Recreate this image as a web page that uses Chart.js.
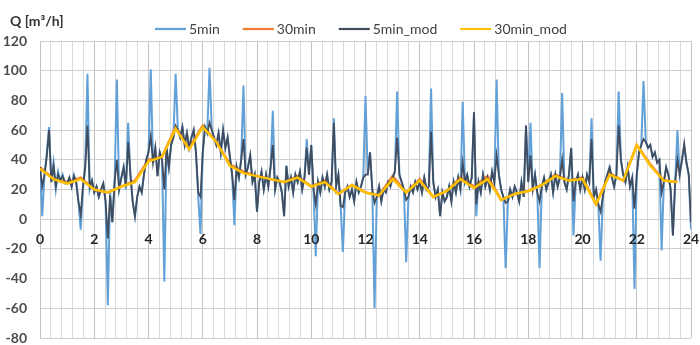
<!DOCTYPE html>
<html><head><meta charset="utf-8">
<script src="https://cdn.jsdelivr.net/npm/chart.js@4.4.1/dist/chart.umd.min.js"></script>
<style>html,body{margin:0;padding:0;background:#fff;}</style>
</head><body>
<canvas id="c" width="700" height="345"></canvas>
<script>
const seriesNames = ['5min', '30min', '5min_mod', '30min_mod'];
const axisTitle = 'Q [m³/h]';
const xTickLabels = ['0','2','4','6','8','10','12','14','16','18','20','22','24'];
const yTickLabels = ['-80','-60','-40','-20','0','20','40','60','80','100','120'];

// 5-minute values, one row per hour (00:00 ... 23:55) + 24:00
const fiveMin = [
  35, 2, 30, 45, 62, 25, 38, 20, 32, 26, 30, 24,
  24, 28, 22, 30, 25, 12, -7, 20, 35, 98, 20, 26,
  18, 22, 15, 20, 24, 12, -58, 18, -2, 25, 94, 20,
  28, 35, 20, 65, 30, 12, 2, 15, 22, 18, 30, 40,
  45, 101, 38, 48, 29, 45, 40, -42, 48, 35, 50, 55,
  98, 60, 55, 62, 50, 58, 48, 55, 60, 45, 15, -10,
  45, 62, 58, 102, 60, 55, 50, 58, 45, 60, 48, 55,
  42, 30, -4, 35, 28, 40, 90, 30, 35, 43, 25, 30,
  5, 25, 32, 20, 30, 22, 35, 73, 20, 28, 25, 18,
  2, 36, 22, 28, 18, 30, 25, 32, 20, 28, 54, 30,
  50, 20, -25, 25, 18, 28, 22, 30, 20, 25, 68, 22,
  30, 9, -22, 18, 22, 15, 20, 12, 25, 18, 22, 28,
  83, 30, 45, 20, -60, 15, 22, 12, 20, 18, 25, 22,
  28, 32, 86, 30, 25, 20, -29, 15, 22, 18, 25, 20,
  25, 18, 28, 20, 22, 88, 25, 15, 20, 2, 18, 12,
  15, 22, 12, 25, 18, 28, 20, 79, 25, 30, 22, 28,
  72, 2, 25, 18, 30, 22, 28, 20, 32, 25, 94, 30,
  20, 15, -33, 12, 20, 15, 22, 18, 12, 25, 15, 63,
  25, 65, 20, 30, 18, -33, 22, 28, 20, 25, 30, 18,
  30, 22, 28, 85, 25, 20, 30, 48, -11, 25, 30, 20,
  28, 20, 30, 25, 68, 15, 20, 10, -28, 15, 25, 30,
  35, 28, 22, 30, 86, 40, 30, 25, 35, 22, 28, -47,
  30, 45, 50, 93, 52, 48, 50, 42, 45, 38, 40, -21,
  25, 35, 30, 20, -11, 25, 60, 30, 40, 48, 38, 30,
  -7
];

const fiveMinMod = [
  35, 22, 30, 42, 60, 25, 36, 22, 30, 26, 29, 25,
  24, 28, 22, 29, 25, 12, 3, 22, 35, 63, 22, 26,
  18, 22, 15, 20, 24, 12, -13, 16, -2, 25, 40, 20,
  28, 35, 22, 52, 30, 12, 2, 15, 22, 18, 30, 40,
  45, 56, 38, 48, 29, 45, 40, 20, 48, 35, 50, 55,
  63, 60, 55, 62, 50, 58, 48, 55, 60, 45, 18, 15,
  45, 62, 58, 65, 60, 55, 50, 58, 45, 60, 48, 55,
  42, 30, 13, 35, 28, 40, 54, 30, 35, 43, 25, 30,
  5, 25, 32, 20, 30, 22, 35, 50, 20, 28, 25, 18,
  2, 36, 22, 28, 18, 30, 25, 32, 20, 28, 48, 30,
  50, 20, 10, 25, 18, 28, 22, 30, 20, 25, 65, 22,
  30, 9, 8, 18, 22, 15, 20, 12, 25, 18, 22, 28,
  30, 30, 45, 20, 11, 15, 22, 12, 20, 18, 25, 22,
  28, 32, 55, 30, 25, 20, 13, 15, 22, 18, 25, 20,
  25, 18, 28, 20, 22, 59, 25, 15, 20, 2, 18, 12,
  15, 22, 12, 25, 18, 28, 20, 38, 25, 30, 22, 28,
  72, 10, 25, 18, 30, 22, 28, 20, 32, 25, 43, 30,
  20, 15, 11, 12, 20, 15, 22, 18, 12, 25, 15, 63,
  25, 43, 20, 30, 18, 12, 22, 28, 20, 25, 30, 18,
  30, 22, 28, 40, 25, 20, 30, 48, 12, 25, 30, 20,
  28, 20, 30, 25, 54, 15, 20, 10, 5, 15, 25, 30,
  35, 28, 22, 30, 63, 40, 30, 25, 35, 22, 28, 7,
  30, 45, 50, 54, 52, 48, 50, 42, 45, 38, 40, 18,
  25, 35, 30, 20, -11, 25, 40, 30, 40, 51, 38, 30,
  -2
];

// 30-minute values (00:00 ... 23:30)
const thirtyMin = [35,27,25,28,20,18,22,26,40,42,62,48,63,52,37,32,29,27,25,29,22,26,17,23,
                   18,16,29,18,27,15,19,28,22,29,13,17,19,23,30,26,28,10,31,26,50,37,26,25];
const thirtyMinMod = [34,27,24,27,20,18,22,25,39,42,61,47,62,52,36,31,29,27,25,28,22,25,17,23,
                      18,16,27,18,26,15,19,27,21,27,13,17,19,23,29,26,27,10,30,26,50,36,26,25];

const seriesValues = [fiveMin, thirtyMin, fiveMinMod, thirtyMinMod];
const seriesStepH = [5/60, 0.5, 5/60, 0.5];
const seriesColors = ['#62a0d8', '#ed7d31', '#414d5e', '#ffc000'];
const seriesWidths = [2, 2.5, 1.8, 2.5];
const seriesOrder = [3, 2, 1, 0];

const datasets = seriesNames.map((name, k) => ({
  label: name,
  data: seriesValues[k].map((v, i) => ({x: i * seriesStepH[k], y: v})),
  borderColor: seriesColors[k],
  backgroundColor: seriesColors[k],
  borderWidth: seriesWidths[k],
  pointRadius: 0,
  tension: 0,
  fill: false,
  order: seriesOrder[k]
}));

const overlay = {
  id: 'overlay',
  afterDatasetsDraw(chart) {
    const {ctx, scales: {x, y}} = chart;
    ctx.save();
    ctx.font = 'bold 14px Lato';
    ctx.fillStyle = '#262626';
    ctx.textAlign = 'center';
    ctx.textBaseline = 'middle';
    const y0 = y.getPixelForValue(0);
    xTickLabels.forEach(l => ctx.fillText(l, x.getPixelForValue(Number(l)), y0 + 20));
    ctx.restore();
  },
  afterDraw(chart) {
    const ctx = chart.ctx;
    ctx.save();
    // axis title
    ctx.font = 'bold 14px Lato';
    ctx.fillStyle = '#333333';
    ctx.textAlign = 'left';
    ctx.textBaseline = 'middle';
    ctx.fillText(axisTitle, 10, 21);
    // legend
    ctx.font = '14px Lato';
    const lineLen = 31, gapText = 3, gapItem = 23, ly = 29;
    const ds = chart.data.datasets;
    let xPos = 155;
    ds.forEach(d => {
      ctx.strokeStyle = d.borderColor;
      ctx.lineWidth = 2.2;
      ctx.beginPath();
      ctx.moveTo(xPos, ly);
      ctx.lineTo(xPos + lineLen, ly);
      ctx.stroke();
      ctx.fillStyle = '#404040';
      ctx.fillText(d.label, xPos + lineLen + gapText, ly);
      xPos += lineLen + gapText + ctx.measureText(d.label).width + gapItem;
    });
    ctx.restore();
  }
};

new Chart(document.getElementById('c'), {
  type: 'line',
  data: {datasets},
  options: {
    responsive: false,
    animation: false,
    parsing: true,
    layout: {padding: {top: 41, right: 9, bottom: 7, left: 0}},
    plugins: {legend: {display: false}, tooltip: {enabled: false}},
    scales: {
      x: {
        type: 'linear', min: 0, max: 24,
        afterFit(s) { s.height = 0; },
        ticks: {display: false, stepSize: 0.4},
        grid: {
          drawTicks: false,
          color: c => (Math.abs(c.tick.value / 2 - Math.round(c.tick.value / 2)) < 1e-6) ? '#c2c2c2' : '#dadada'
        },
        border: {display: false}
      },
      y: {
        min: -80, max: 120,
        afterFit(s) { s.width = 40; s.paddingTop = 0; s.paddingBottom = 0; },
        ticks: {
          stepSize: 20, padding: 13, color: '#4d4d4d',
          font: {family: 'Lato', size: 14, weight: 'bold'},
          callback: (v, i) => yTickLabels[i]
        },
        grid: {drawTicks: false, color: '#cfcfcf'},
        border: {display: false}
      }
    }
  },
  plugins: [overlay]
});
</script>
</body></html>
